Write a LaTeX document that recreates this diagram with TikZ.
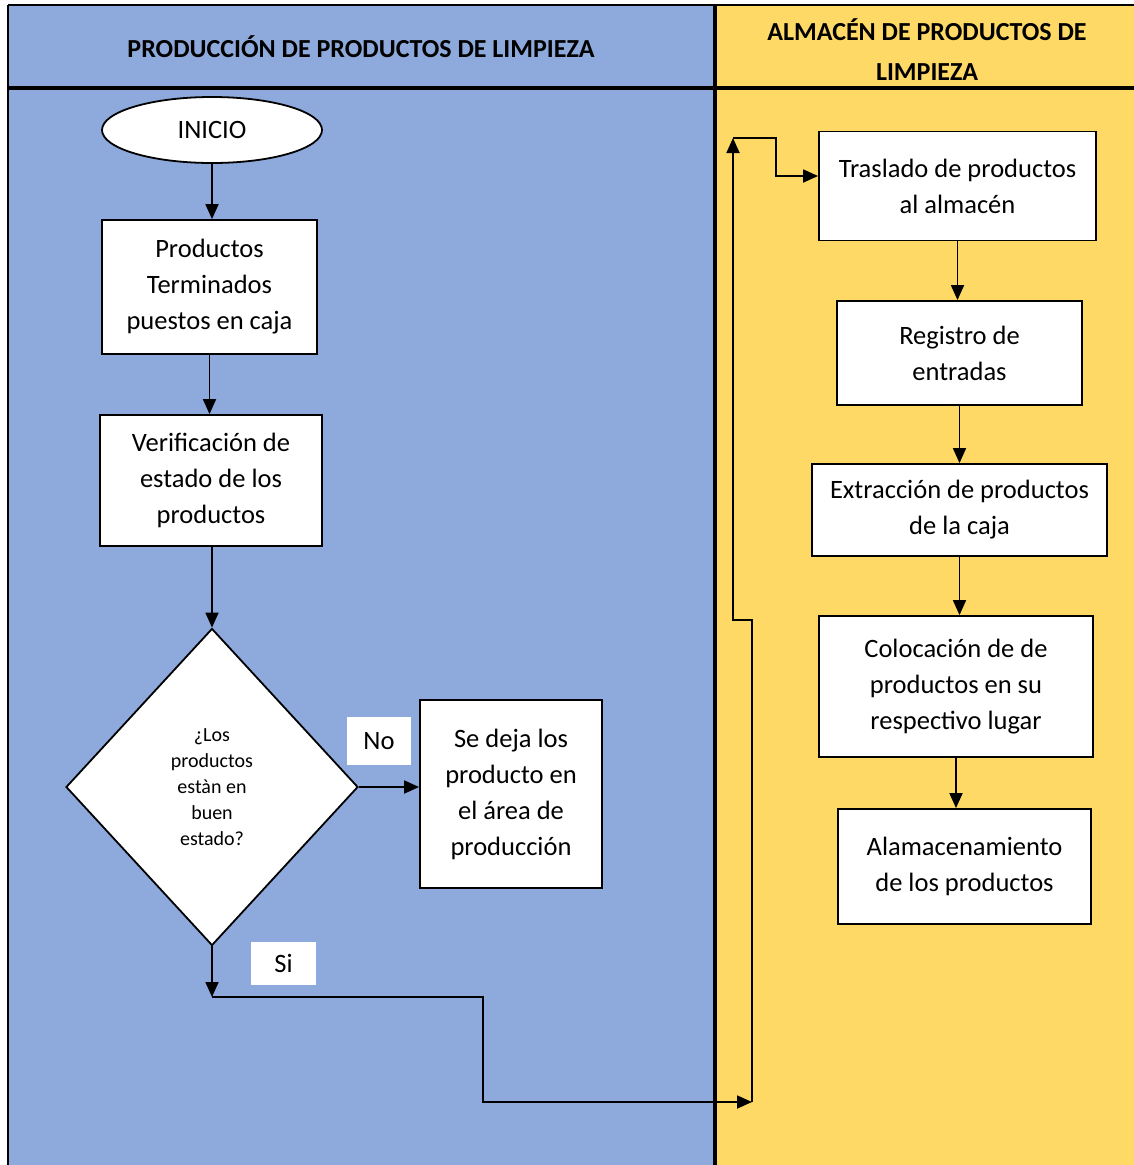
\documentclass[tikz,border=0pt]{standalone}
\usepackage{fontspec}
\setmainfont{Carlito}
\usetikzlibrary{shapes.geometric, arrows.meta, positioning}

\definecolor{carrilazul}{HTML}{8EA9DB}
\definecolor{carrilamarillo}{HTML}{FFD966}

\begin{document}
\begin{tikzpicture}[x=1pt, y=-1pt, ->, >={Triangle[length=15pt, width=13pt]}, line width=1.8pt,
  proceso/.style={draw, fill=white, rectangle, align=center, inner sep=0pt, font=\fontsize{26.5}{36}\selectfont},
  inicio/.style={draw, fill=white, ellipse, inner sep=0pt, minimum width=220pt, minimum height=66pt, font=\fontsize{26.5}{36}\selectfont},
  decision/.style={draw, fill=white, diamond, align=center, inner sep=0pt, minimum width=292pt, minimum height=317pt, font=\fontsize{20}{26}\selectfont},
  etiqueta/.style={fill=white, inner sep=0pt, font=\fontsize{26.5}{36}\selectfont},
  encabezado/.style={align=center, font=\bfseries\fontsize{26}{40}\selectfont}]
\useasboundingbox (0,0) rectangle (1134,1165);

% Carriles
\fill[carrilazul] (8,5) rectangle (715,1165);
\fill[carrilamarillo] (715,5) rectangle (1134,1165);
\draw[-, line width=1.5pt] (8,5) -- (1134,5);
\draw[-, line width=2pt] (8,5) -- (8,1165);
\draw[-, line width=3.5pt] (8,88) -- (1134,88);
\draw[-, line width=3.5pt] (715,5) -- (715,1165);
\node[encabezado] (hprod) at (361,47) {PRODUCCIÓN DE PRODUCTOS DE LIMPIEZA};
\node[encabezado] (halm) at (927,50) {ALMACÉN DE PRODUCTOS DE\\LIMPIEZA};

% Produccion
\node[inicio] (inicio) at (212,130) {INICIO};
\node[proceso, minimum width=215pt, minimum height=134pt] (terminados) at (209.5,287) {Productos\\Terminados\\puestos en caja};
\node[proceso, minimum width=222pt, minimum height=131pt] (verificacion) at (211,480.5) {Verificación de\\estado de los\\productos};
\node[decision] (estado) at (212,787) {¿Los\\productos\\estàn en\\buen\\estado?};
\node[proceso, minimum width=182pt, minimum height=188pt] (dejar) at (511,794) {Se deja los\\producto en\\el área de\\producción};
\node[etiqueta, minimum width=64pt, minimum height=48pt] (no) at (379,741) {No};
\node[etiqueta, minimum width=65pt, minimum height=43pt] (si) at (283.5,963.5) {Si};

% Almacen
\node[proceso, minimum width=277pt, minimum height=109pt] (traslado) at (957.5,186) {Traslado de productos\\al almacén};
\node[proceso, minimum width=245pt, minimum height=104pt] (registro) at (959.5,353) {Registro de\\entradas};
\node[proceso, minimum width=295pt, minimum height=92pt] (extraccion) at (959.5,510) {Extracción de productos\\de la caja};
\node[proceso, minimum width=274pt, minimum height=141pt] (colocacion) at (956,686.5) {Colocación de de\\productos en su\\respectivo lugar};
\node[proceso, minimum width=253pt, minimum height=115pt] (alamacenamiento) at (964.5,866.5) {Alamacenamiento\\de los productos};

% Puntos de paso
\coordinate (p1) at (212,997);
\coordinate (p2) at (483,997);
\coordinate (p3) at (483,1102);
\coordinate (p4) at (752,1102);
\coordinate (p5) at (752,620);
\coordinate (p6) at (733,620);
\coordinate (p7) at (733,138);
\coordinate (p8) at (776,138);
\coordinate (p9) at (776,176);

% Flujo
\draw (inicio.south) -- (inicio.south |- terminados.north);
\draw (terminados.south) -- (terminados.south |- verificacion.north);
\draw (estado.north |- verificacion.south) -- (estado.north);
\draw (estado.east) -- (estado.east -| dejar.west);
\draw (estado.south) -- (p1);
\draw (p1) -- (p2) -- (p3) -- (p4);
\draw (p4) -- (p5) -- (p6) -- (p7);
\draw (p7) -- (p8) -- (p9) -- (p9 -| traslado.west);
\draw (traslado.south) -- (traslado.south |- registro.north);
\draw (registro.south) -- (registro.south |- extraccion.north);
\draw (extraccion.south) -- (extraccion.south |- colocacion.north);
\draw (colocacion.south) -- (colocacion.south |- alamacenamiento.north);
\end{tikzpicture}
\end{document}
